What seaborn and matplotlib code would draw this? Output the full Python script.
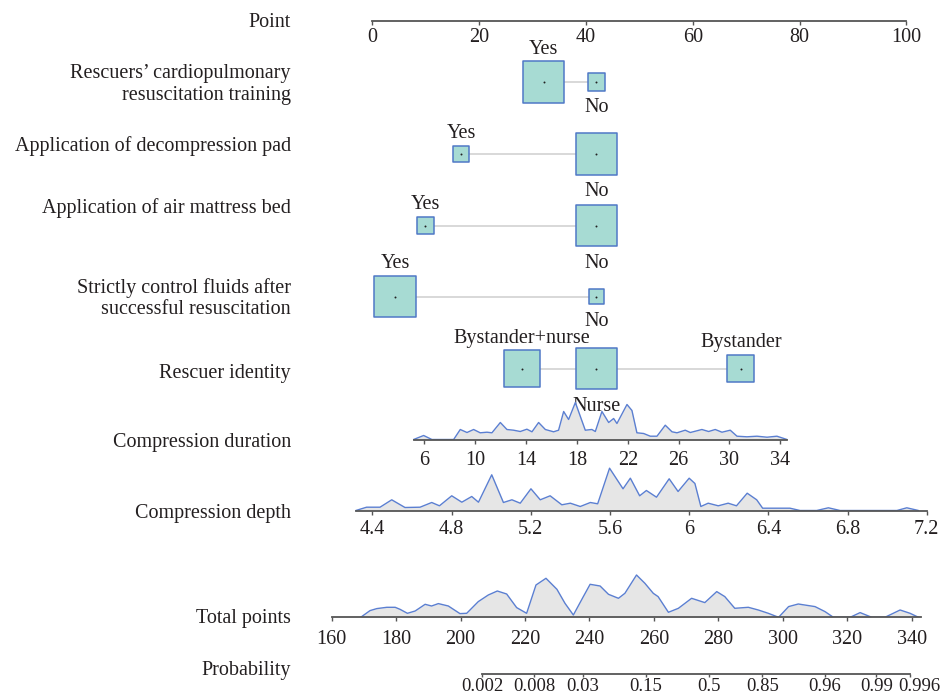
import numpy as np
import pandas as pd
import matplotlib
matplotlib.use("Agg")
import matplotlib.pyplot as plt
import matplotlib.transforms as mtransforms
import seaborn as sns

# ---- data ----
# categorical predictors: levels, points on the Point scale, share of patients
cpr_levels = ["Yes", "No"]
cpr_points = [32.1, 42.0]
cpr_share = [0.84, 0.16]

pad_levels = ["Yes", "No"]
pad_points = [16.7, 42.0]
pad_share = [0.14, 0.86]

bed_levels = ["Yes", "No"]
bed_points = [10.0, 42.0]
bed_share = [0.16, 0.84]

fluid_levels = ["Yes", "No"]
fluid_points = [4.3, 42.0]
fluid_share = [0.86, 0.14]

rescuer_levels = ["Bystander+nurse", "Nurse", "Bystander"]
rescuer_points = [28.1, 42.0, 69.0]
rescuer_share = [0.35, 0.45, 0.20]

# continuous predictors: two anchor values and their points
dur_anchor = [(6, 9.78), (34, 76.4)]
dur_ticks = [6, 10, 14, 18, 22, 26, 30, 34]
dur_x = [5.16, 5.95, 6.60, 8.31, 8.83, 9.36, 9.88, 10.40, 10.93, 11.32, 11.98, 12.50,
         13.02, 13.55, 14.07, 14.47, 14.99, 15.52, 16.17, 16.56, 16.96, 17.35, 17.88,
         18.66, 19.18, 19.45, 19.97, 20.50, 20.89, 21.15, 21.94, 22.33, 22.72, 23.25,
         23.77, 24.30, 24.95, 25.48, 25.87, 26.52, 26.92, 27.83, 28.36, 28.88, 29.41,
         30.06, 30.59, 31.37, 32.16, 32.95, 33.73, 34.52]
dur_h = [0, 4, 0, 0, 10, 7, 10, 6.7, 7.3, 6.7, 17, 10, 9.3, 8, 10.3, 7.7, 17, 10, 7.7,
         9.3, 28, 20, 37, 9.3, 10, 8, 28, 17, 21, 16, 35, 29, 6.7, 6, 3.3, 3.3, 14.3,
         7.7, 6.7, 9.3, 7, 10, 8, 10, 7.3, 9.3, 3.3, 2.7, 3.3, 2.3, 3.3, 0]

depth_anchor = [(4.4, 0.06), (7.2, 103.8)]
depth_ticks = [4.4, 4.8, 5.2, 5.6, 6, 6.4, 6.8, 7.2]
depth_x = [4.317, 4.371, 4.439, 4.498, 4.565, 4.641, 4.700, 4.739, 4.801, 4.852, 4.902,
           4.936, 5.003, 5.062, 5.105, 5.147, 5.201, 5.248, 5.298, 5.357, 5.400, 5.450,
           5.501, 5.538, 5.598, 5.666, 5.703, 5.750, 5.784, 5.835, 5.899, 5.944, 6.000,
           6.029, 6.059, 6.096, 6.147, 6.197, 6.239, 6.293, 6.341, 6.371, 6.459, 6.509,
           6.560, 6.644, 6.703, 6.762, 7.049, 7.099, 7.158]
depth_h = [0, 3.3, 3.3, 10.7, 3, 3.3, 8, 4.7, 14.7, 8.3, 14, 8.3, 35.7, 8, 10.7, 7.3,
           21.7, 10.7, 14.7, 5.7, 7.3, 4, 8, 6.7, 42.3, 21.7, 32.3, 14.7, 20, 13.3, 31.7,
           19, 32.3, 27, 4, 7.3, 4.7, 7.3, 4.7, 17.3, 10.7, 2.3, 2.3, 2.3, 0, 0, 2.7, 0,
           0, 2.7, 0]

total_anchor = [(160, -7.54), (340, 100.97)]
total_ticks = [160, 180, 200, 220, 240, 260, 280, 300, 320, 340]
total_x = [169.0, 171.9, 174.0, 177.1, 179.7, 181.2, 183.5, 185.9, 189.0, 191.0, 193.1,
           196.2, 199.8, 201.9, 205.5, 208.6, 211.4, 214.3, 217.4, 220.5, 223.4, 226.5,
           229.9, 232.4, 235.0, 238.1, 240.2, 243.3, 245.9, 249.0, 251.0, 254.6, 257.2,
           259.8, 261.3, 264.5, 267.6, 271.7, 275.8, 279.5, 282.0, 285.1, 289.3, 292.4,
           295.5, 298.7, 301.8, 304.8, 310.0, 313.1, 315.7, 320.9, 324.0, 327.6, 331.7,
           336.4, 339.5, 342.1]
total_h = [0, 6.7, 8.7, 10, 10, 8, 4, 6.3, 13, 11.3, 13.7, 11.3, 3.7, 4, 15.7, 22.3, 26.3,
           23.3, 9.7, 4, 32.3, 39, 28, 14, 2.3, 20.7, 33, 31.3, 23, 19, 24, 42.3, 34, 24,
           20.7, 5, 9, 19, 14.7, 25.7, 20.7, 9, 10, 7.3, 4, 0, 10.7, 13.3, 10.7, 5.7, 0, 0,
           4.7, 0, 0, 7.3, 4, 0]

prob_labels = ["0.002", "0.008", "0.03", "0.15", "0.5", "0.85", "0.96", "0.99", "0.996"]
prob_at_total = [206.7, 222.8, 238.0, 257.4, 277.0, 293.7, 313.0, 329.0, 339.4]

# ---- style ----
sns.set_style("white")
plt.rcParams["font.family"] = ["Liberation Serif", "DejaVu Serif"]
FS = 14.5
TXT = "#231f20"
AXCOL = "#555555"
FACE = "#a7dbd3"
EDGE = "#4f78c6"
DENS_LINE = "#5b7fd1"
DENS_FILL = "#e6e6e6"

W, H = 949, 699
PT0_PX, PX_PER_PT = 372, 5.345
TXT_DY = 2.5  # nudge so glyphs sit like the reference

fig = plt.figure(figsize=(W / 100, H / 100), dpi=100)
ax = fig.add_axes([0, 0, 1, 1])
ax.axis("off")

# categorical rows
cat_vars = [
    (cpr_levels, cpr_points, cpr_share),
    (pad_levels, pad_points, pad_share),
    (bed_levels, bed_points, bed_share),
    (fluid_levels, fluid_points, fluid_share),
    (rescuer_levels, rescuer_points, rescuer_share),
]
row_y = [82, 154, 225.5, 296.5, 368.5]
MAX_SIDE = 43

recs = []
for (levels, pts, share), y in zip(cat_vars, row_y):
    mx = max(share)
    for lev, p, sh in zip(levels, pts, share):
        side = MAX_SIDE * np.sqrt(sh / mx)
        recs.append(dict(level=lev, pts=p, row=y, side=side,
                         s=(side * 0.72 - 1.1) ** 2))
    ax.hlines(y, min(pts), max(pts), color="#d8d8d8", lw=1.4, zorder=1)
cat = pd.DataFrame(recs)

smin, smax = cat["s"].min(), cat["s"].max()
sns.scatterplot(data=cat, x="pts", y="row", size="s", sizes=(smin, smax),
                size_norm=(smin, smax), marker="s", color=FACE, edgecolor=EDGE,
                linewidth=1.1, legend=False, ax=ax, zorder=3)
sns.scatterplot(data=cat, x="pts", y="row", s=2, color="#222222", linewidth=0,
                legend=False, ax=ax, zorder=4)

for y in row_y:
    sub = cat[cat["row"] == y].sort_values("pts").reset_index(drop=True)
    for i, r in sub.iterrows():
        off = r["side"] / 2 + 14
        ty = y - off if i % 2 == 0 else y + off
        ax.text(r["pts"], ty + TXT_DY, r["level"], ha="center", va="center",
                fontsize=FS, color=TXT)

ax.set_xlim(-PT0_PX / PX_PER_PT, (W - PT0_PX) / PX_PER_PT)
ax.set_ylim(H, 0)
ax.set(xlabel="", ylabel="")

# row labels
lab_x = (291 - PT0_PX) / PX_PER_PT
row_labels = ["Point", "Rescuers\u2019 cardiopulmonary\nresuscitation training",
              "Application of decompression pad", "Application of air mattress bed",
              "Strictly control fluids after\nsuccessful resuscitation",
              "Rescuer identity", "Compression duration", "Compression depth",
              "Total points", "Probability"]
label_y = [20, 82, 144, 206, 296, 371, 440, 511, 616, 668]
for t, y in zip(row_labels, label_y):
    ax.text(lab_x, y + TXT_DY, t, ha="right", va="center", fontsize=FS, color=TXT,
            linespacing=1.2)


def scale_axes(y_line, anchor, depth=50, pad=4, fs=FS, tick_len=3):
    (va, pa), (vb, pb) = anchor
    pxa = PT0_PX + pa * PX_PER_PT
    pxb = PT0_PX + pb * PX_PER_PT
    ppu = (pxb - pxa) / (vb - va)
    sub = fig.add_axes([0, 1 - y_line / H, 1, depth / H])
    sub.patch.set_alpha(0)
    for s in ["top", "left", "right"]:
        sub.spines[s].set_visible(False)
    sub.spines["bottom"].set_color(AXCOL)
    sub.spines["bottom"].set_linewidth(1.3)
    sub.set_yticks([])
    sub.tick_params(axis="x", bottom=True, length=tick_len, width=1, color=AXCOL,
                    labelsize=fs, labelcolor=TXT, pad=pad, direction="out")
    lim = (va - pxa / ppu, va + (W - pxa) / ppu)
    return sub, lim, depth


def finish(sub, lim, depth, ticks, bounds, labels=None):
    sub.set_xlim(*lim)
    sub.set_ylim(0, depth)
    sub.set_xticks(ticks)
    if labels is not None:
        sub.set_xticklabels(labels)
    else:
        sub.set_xticklabels([f"{t:g}" for t in ticks])
    sub.spines["bottom"].set_bounds(*bounds)
    sub.set(xlabel="", ylabel="")


def density(sub, x, h):
    sub.fill_between(x, 0, h, color=DENS_FILL, lw=0)
    sns.lineplot(x=x, y=h, ax=sub, color=DENS_LINE, lw=1.0, sort=False)


# Point scale
pax, lim, d = scale_axes(21, [(0, 0), (100, 100)], depth=2, pad=2)
finish(pax, lim, d, [0, 20, 40, 60, 80, 100], (0, 100))

# Compression duration
dax, lim, d = scale_axes(439.5, dur_anchor, pad=5)
density(dax, dur_x, dur_h)
finish(dax, lim, d, dur_ticks, (dur_x[0], dur_x[-1]))

# Compression depth
cax, lim, d = scale_axes(510.5, depth_anchor)
density(cax, depth_x, depth_h)
finish(cax, lim, d, depth_ticks, (depth_x[0], depth_ticks[-1]))

# Total points
tax, lim, d = scale_axes(617.3, total_anchor, pad=6)
density(tax, total_x, total_h)
finish(tax, lim, d, total_ticks, (total_ticks[0], 343))

# Probability
qax, lim, d = scale_axes(673.5, total_anchor, depth=2, pad=1.2, fs=13.5, tick_len=2)
finish(qax, lim, d, prob_at_total, (prob_at_total[0], prob_at_total[-1]),
       labels=prob_labels)
# last label sits a little right of its tick, as in the reference
last = qax.get_xticklabels()[-1]
last.set_transform(last.get_transform() +
                   mtransforms.ScaledTranslation(10 / 100, 0, fig.dpi_scale_trans))

fig.savefig("out.png", dpi=100)
